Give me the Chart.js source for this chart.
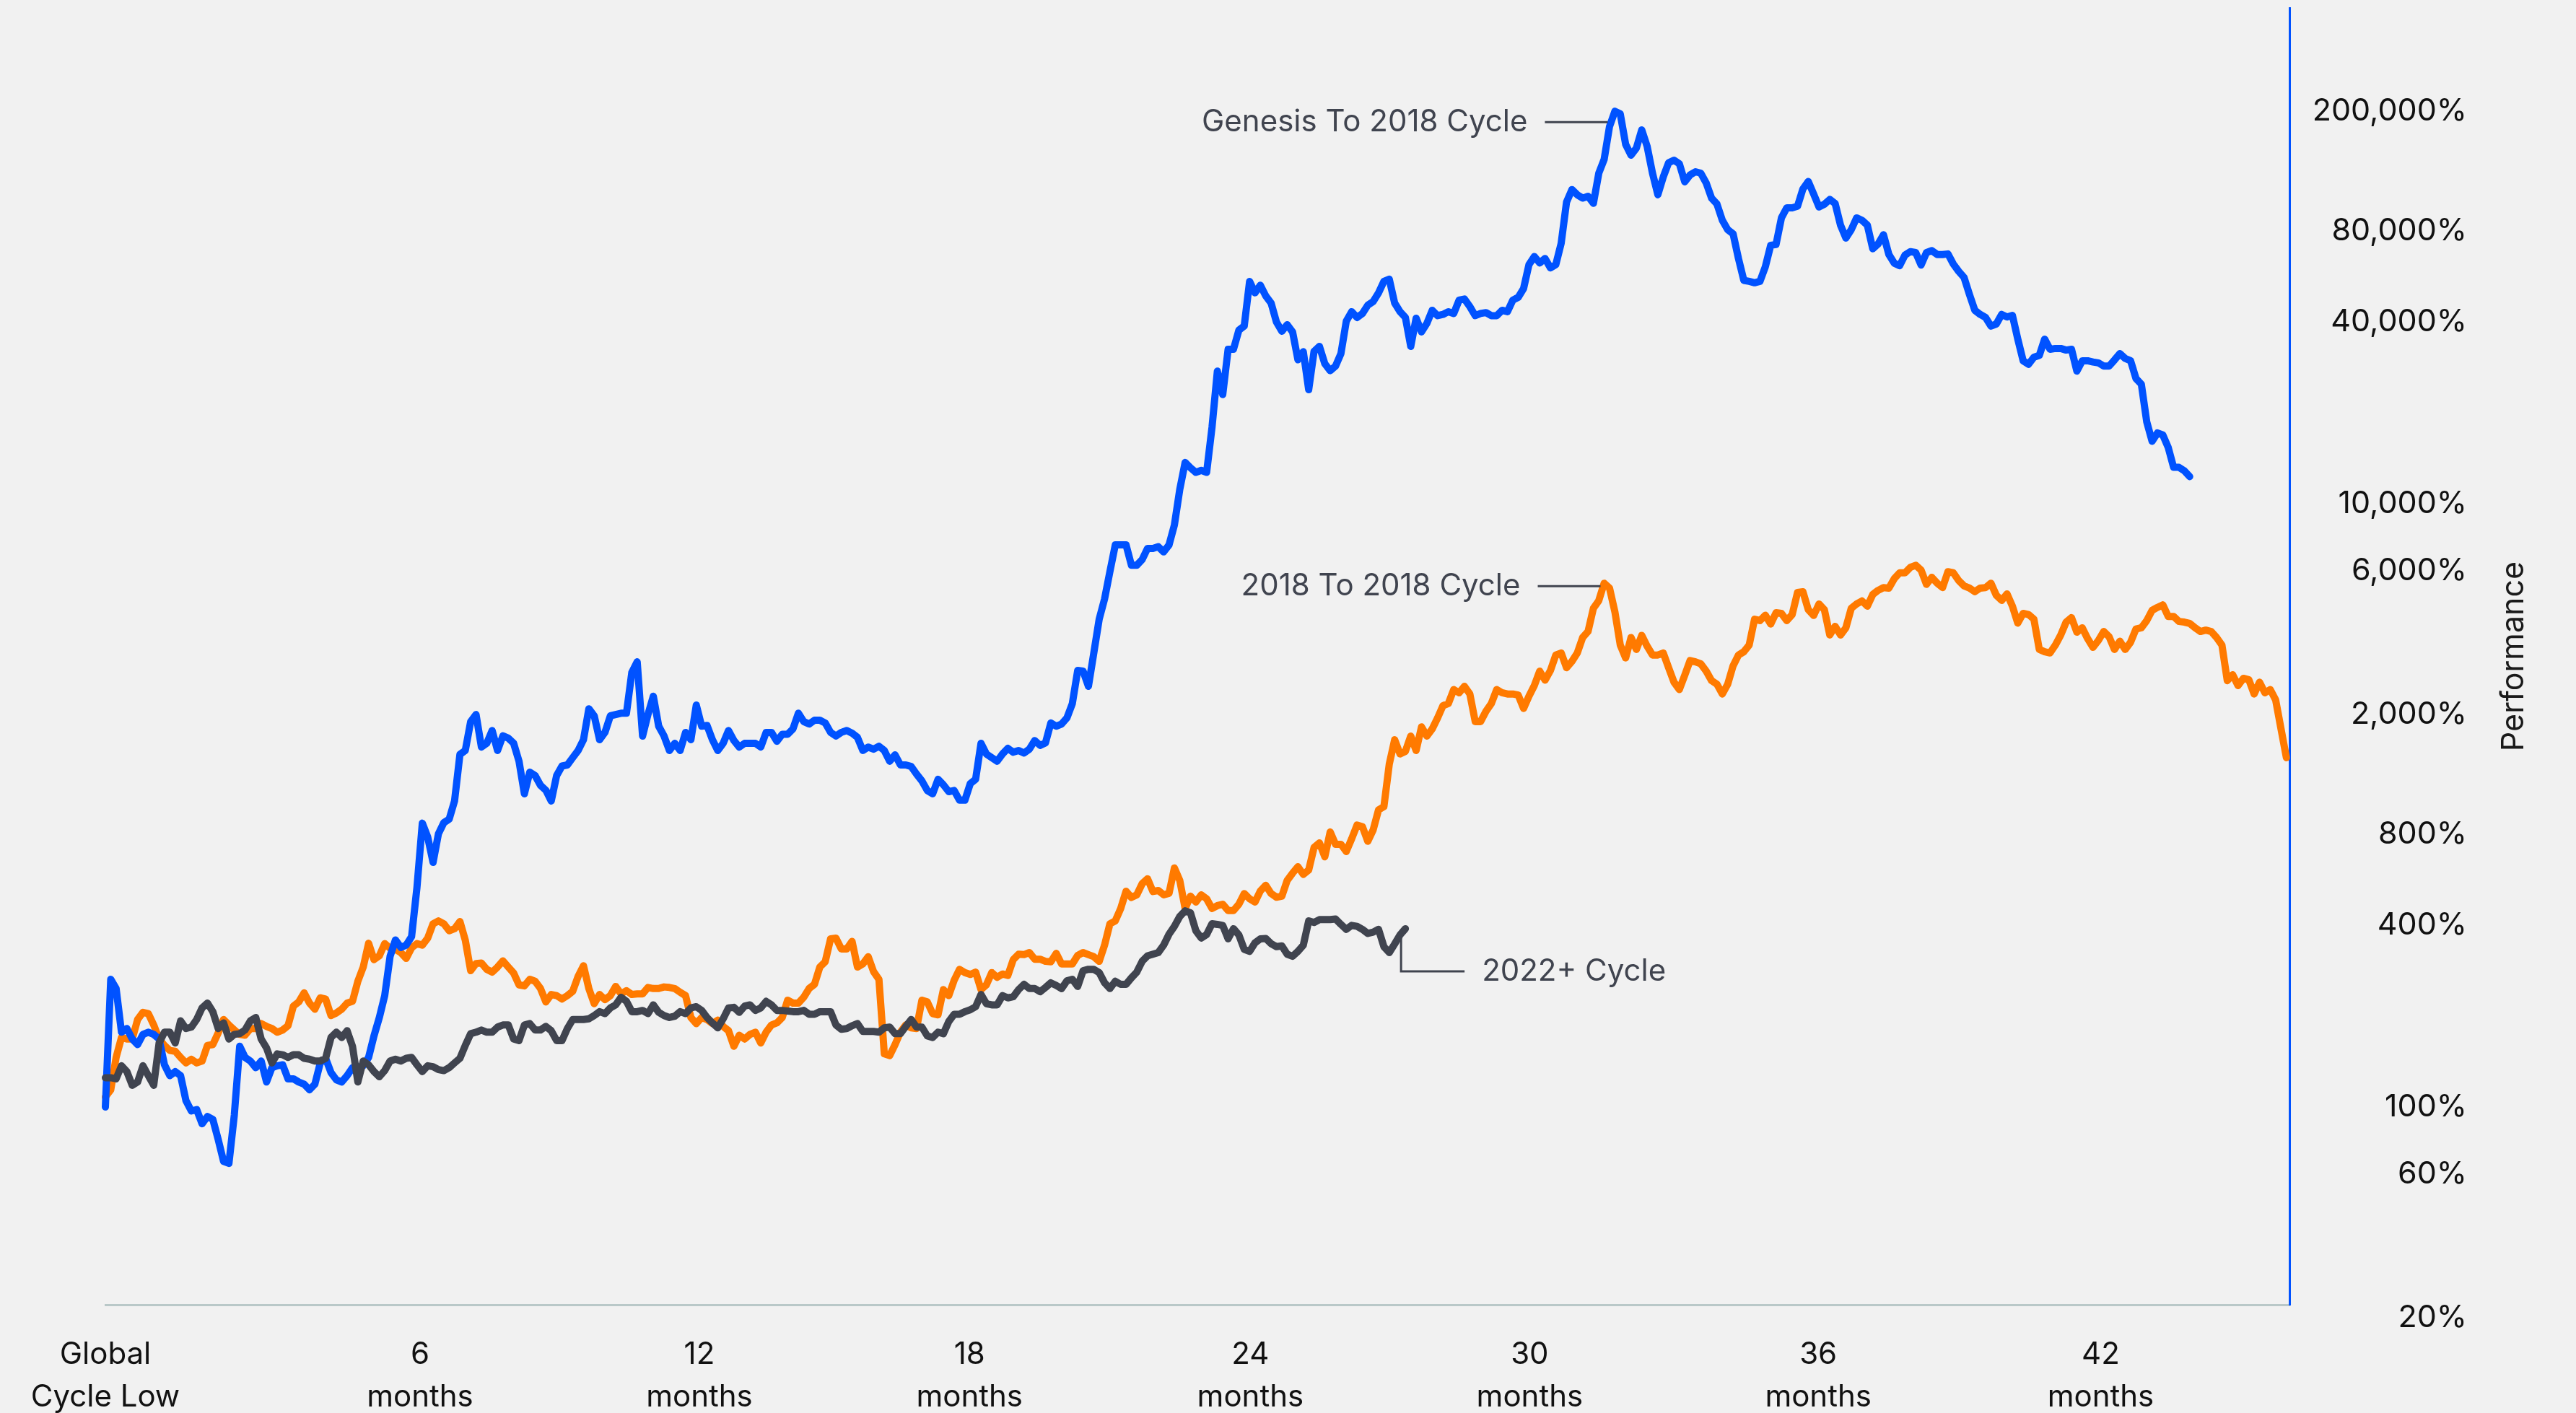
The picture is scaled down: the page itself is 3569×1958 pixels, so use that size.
<!DOCTYPE html>
<html>
<head>
<meta charset="utf-8">
<title>Cycle performance from the global cycle low</title>
<script src="https://cdn.jsdelivr.net/npm/chart.js@4.4.1/dist/chart.umd.min.js"></script>
<style>
  html, body { margin: 0; padding: 0; background: #f1f1f1; }
  #wrap { position: relative; width: 3569px; height: 1958px; }
</style>
</head>
<body>
<div id="wrap"><canvas id="cycles"></canvas></div>
<script>
// Two readings per week, counted in days from the global cycle low
const SAMPLE_DAYS = 3.5;

// Performance (%) of each cycle since its low
const genesisCycle = [
  100, 265, 247, 177, 182, 168, 161, 174, 177, 174,
  168, 138, 127, 131, 127, 105, 97, 98, 88, 93,
  91, 78, 66, 65, 94, 159, 146, 142, 135, 142,
  121, 135, 137, 138, 124, 124, 121, 119, 114, 119,
  140, 145, 130, 123, 121, 127, 135, 135, 137, 146,
  172, 198, 234, 316, 358, 338, 344, 367, 534, 873,
  785, 647, 805, 876, 900, 1034, 1475, 1520, 1895, 2000,
  1560, 1606, 1770, 1520, 1700, 1670, 1606, 1400, 1092, 1288,
  1255, 1165, 1122, 1034, 1255, 1350, 1361, 1439, 1520, 1650,
  2090, 1980, 1650, 1745, 1980, 2000, 2020, 2020, 2760, 2990,
  1697, 2000, 2300, 1830, 1697, 1520, 1606, 1520, 1745, 1650,
  2150, 1830, 1840, 1650, 1520, 1606, 1770, 1640, 1560, 1606,
  1606, 1606, 1560, 1745, 1745, 1630, 1720, 1720, 1793, 2020,
  1895, 1860, 1915, 1915, 1875, 1745, 1697, 1745, 1770, 1735,
  1680, 1520, 1560, 1535, 1570, 1520, 1400, 1470, 1361, 1361,
  1345, 1270, 1205, 1120, 1092, 1220, 1170, 1110, 1120, 1040,
  1040, 1180, 1220, 1606, 1480, 1439, 1400, 1480, 1545, 1500,
  1520, 1490, 1535, 1640, 1580, 1610, 1875, 1830, 1860, 1950,
  2175, 2800, 2786, 2480, 3200, 4140, 4833, 5960, 7300, 7300,
  7300, 6250, 6250, 6530, 7108, 7108, 7200, 6920, 7300, 8500,
  11150, 13700, 13150, 12700, 12900, 12700, 17900, 27500, 23000, 32500,
  32500, 37600, 38800, 54560, 50000, 53000, 48870, 46250, 40000, 37300,
  39210, 37110, 30000, 31900, 23880, 32000, 33230, 29100, 27600, 28600,
  31450, 40300, 43300, 41430, 42700, 45500, 46800, 50000, 54560, 55500,
  46250, 43300, 41430, 33230, 41200, 37110, 39600, 43770, 42000, 42400,
  43300, 42700, 47300, 47700, 45000, 42000, 42700, 43000, 42000, 42000,
  43770, 43300, 47300, 48300, 51640, 62000, 66000, 62800, 65000, 60500,
  62000, 73000, 100000, 110000, 105700, 103000, 104500, 99000, 124600, 138500,
  178000, 200000, 196000, 155400, 143000, 151000, 173500, 153000, 124600, 105700,
  121000, 135000, 137600, 134000, 116700, 123000, 126000, 124600, 115600, 103000,
  98500, 87000, 81000, 78500, 65000, 55000, 54560, 54000, 54560, 61000,
  71870, 72300, 88600, 95700, 95700, 96900, 110500, 117000, 106300, 96300,
  98300, 102000, 98900, 83800, 75940, 81000, 88600, 87000, 83800, 70000,
  72600, 77900, 67000, 62700, 61500, 66700, 68500, 68000, 61800, 68000,
  69000, 67000, 67000, 67300, 62300, 58900, 56200, 49400, 43770, 42400,
  41430, 38800, 39400, 42400, 41600, 42100, 35120, 29770, 29000, 30600,
  31000, 35120, 32500, 32700, 32700, 32300, 32500, 27500, 29770, 29770,
  29500, 29300, 28600, 28600, 29950, 31450, 30300, 29770, 26000, 24900,
  18700, 16100, 17160, 16900, 15370, 13200, 13200, 12850, 12300
];

const cycle2018 = [
  108, 114, 146, 170, 168, 168, 195, 206, 204, 187,
  168, 160, 154, 153, 146, 140, 144, 140, 142, 160,
  161, 176, 195, 187, 180, 174, 173, 182, 182, 189,
  185, 182, 177, 180, 186, 216, 223, 239, 221, 211,
  230, 228, 201, 205, 211, 221, 224, 261, 291, 349,
  308, 317, 348, 336, 333, 325, 311, 337, 348, 344,
  363, 405, 414, 405, 384, 390, 412, 357, 283, 299,
  300, 286, 280, 291, 305, 291, 278, 254, 252, 265,
  261, 247, 223, 236, 234, 228, 234, 242, 271, 294,
  247, 220, 236, 227, 234, 251, 237, 243, 236, 237,
  237, 249, 247, 247, 250, 249, 247, 240, 234, 198,
  189, 198, 195, 189, 194, 185, 179, 159, 173, 168,
  174, 177, 163, 177, 187, 190, 198, 226, 221, 221,
  231, 247, 255, 291, 303, 361, 363, 334, 334, 354,
  291, 298, 315, 281, 265, 150, 148, 161, 177, 187,
  183, 182, 226, 223, 204, 202, 245, 234, 263, 286,
  279, 275, 280, 245, 254, 279, 269, 276, 273, 308,
  321, 320, 325, 309, 309, 304, 303, 323, 298, 298,
  298, 318, 325, 320, 315, 304, 344, 405, 414, 455,
  519, 495, 505, 550, 571, 518, 522, 505, 511, 620,
  564, 455, 500, 478, 505, 490, 455, 465, 470, 448,
  448, 470, 510, 490, 478, 520, 543, 510, 496, 500,
  564, 596, 626, 590, 610, 725, 751, 675, 816, 743,
  743, 703, 775, 860, 850, 760, 829, 966, 990, 1370,
  1650, 1480, 1510, 1697, 1520, 1820, 1697, 1793, 1950, 2140,
  2175, 2420, 2362, 2480, 2340, 1895, 1895, 2050, 2175, 2420,
  2362, 2340, 2340, 2320, 2095, 2300, 2496, 2786, 2600, 2800,
  3150, 3200, 2860, 3000, 3200, 3600, 3770, 4500, 4770, 5450,
  5250, 4380, 3400, 3080, 3600, 3287, 3660, 3370, 3150, 3150,
  3200, 2860, 2560, 2420, 2700, 3020, 2990, 2944, 2786, 2590,
  2520, 2340, 2520, 2900, 3150, 3230, 3400, 4140, 4097, 4270,
  3990, 4350, 4329, 4097, 4290, 5080, 5107, 4450, 4260, 4650,
  4450, 3670, 3920, 3670, 3878, 4500, 4650, 4760, 4575, 5000,
  5160, 5270, 5250, 5640, 5900, 5900, 6150, 6250, 6025, 5400,
  5700, 5450, 5270, 5950, 5900, 5560, 5340, 5250, 5107, 5250,
  5270, 5450, 4970, 4780, 5020, 4575, 4020, 4329, 4290, 4140,
  3287, 3230, 3200, 3400, 3670, 4050, 4190, 3750, 3878, 3570,
  3340, 3520, 3770, 3620, 3287, 3500, 3287, 3473, 3840, 3878,
  4097, 4430, 4530, 4620, 4230, 4230, 4070, 4050, 4010, 3878,
  3770, 3810, 3770, 3600, 3400, 2590, 2710, 2496, 2637, 2610,
  2340, 2560, 2362, 2420, 2236, 1793, 1439
];

const cycle2022 = [
  125, 125, 124, 137, 131, 118, 121, 137, 127, 118,
  163, 177, 177, 163, 193, 182, 184, 195, 213, 221,
  207, 182, 190, 168, 174, 175, 180, 193, 198, 168,
  157, 140, 150, 149, 146, 149, 149, 145, 144, 142,
  142, 145, 170, 177, 170, 179, 159, 121, 142, 138,
  131, 126, 132, 142, 144, 142, 145, 146, 138, 131,
  137, 136, 133, 132, 135, 140, 145, 160, 175, 177,
  180, 177, 177, 184, 187, 187, 168, 166, 187, 189,
  180, 180, 185, 179, 166, 166, 182, 195, 195, 195,
  196, 201, 207, 204, 213, 218, 231, 224, 207, 207,
  209, 204, 218, 206, 201, 198, 200, 207, 204, 213,
  215, 209, 198, 190, 183, 196, 213, 214, 206, 216,
  218, 209, 213, 224, 218, 209, 209, 208, 207, 207,
  209, 203, 203, 207, 207, 207, 187, 181, 182, 186,
  189, 178, 178, 178, 177, 183, 184, 175, 175, 185,
  195, 184, 184, 172, 170, 177, 175, 192, 203, 203,
  207, 210, 215, 236, 220, 218, 218, 234, 230, 232,
  245, 255, 247, 247, 241, 249, 258, 253, 247, 262,
  265, 251, 283, 286, 286, 279, 258, 247, 261, 255,
  255, 268, 280, 304, 317, 321, 325, 344, 374, 397,
  428, 447, 440, 384, 363, 373, 405, 403, 400, 361,
  390, 372, 333, 328, 350, 361, 362, 348, 340, 342,
  321, 316, 328, 344, 414, 409, 418, 418, 418, 420,
  403, 388, 400, 397, 388, 376, 380, 388, 340, 325,
  347, 372, 390
];

// Axis ticks
const tickDays = [0, 205, 387, 563, 746, 928, 1116, 1300];
const tickLabels = [
  ['Global', 'Cycle Low'], ['6', 'months'], ['12', 'months'], ['18', 'months'],
  ['24', 'months'], ['30', 'months'], ['36', 'months'], ['42', 'months']
];
const perfTicks = [20, 60, 100, 400, 800, 2000, 6000, 10000, 40000, 80000, 200000];

const X_MAX_DAYS = 1423;
const Y_MIN = 22.1;
const Y_MAX = 440000;

const BLUE = '#0052ff';
const ORANGE = '#ff7a00';
const SLATE = '#40444f';
const FONT = 'Inter';

const fmtPerf = v => v.toLocaleString('en-US') + '%';
const toPoints = vals => vals.map((v, i) => ({ x: i * SAMPLE_DAYS, y: v }));

// index of the highest reading up to a given day
const peakIndex = (vals, untilDay = Infinity) => {
  let best = 0;
  vals.forEach((v, i) => {
    if (i * SAMPLE_DAYS <= untilDay && v > vals[best]) best = i;
  });
  return best;
};

const peakCallouts = [
  { series: genesisCycle, until: Infinity, text: 'Genesis To 2018 Cycle', gap: 10, drop: 15 },
  { series: cycle2018, until: 1050, text: '2018 To 2018 Cycle', gap: 5, drop: 4 }
];

const cycleLabels = {
  id: 'cycleLabels',
  afterDatasetsDraw(chart) {
    const { ctx, scales: { x, y } } = chart;
    const at = (series, i) => ({
      px: x.getPixelForValue(i * SAMPLE_DAYS),
      py: y.getPixelForValue(series[i])
    });

    ctx.save();
    ctx.font = `42px ${FONT}`;
    ctx.fillStyle = SLATE;
    ctx.strokeStyle = SLATE;
    ctx.lineWidth = 3;
    ctx.textBaseline = 'middle';

    // leader runs left from the high, label sits before it
    ctx.textAlign = 'right';
    peakCallouts.forEach(c => {
      const { px, py } = at(c.series, peakIndex(c.series, c.until));
      const ly = py + c.drop;
      const end = px - c.gap;
      ctx.beginPath();
      ctx.moveTo(end - 87, ly);
      ctx.lineTo(end, ly);
      ctx.stroke();
      ctx.fillText(c.text, end - 111, ly);
    });

    // 2022+ label hangs below the latest reading
    const { px, py } = at(cycle2022, cycle2022.length - 1);
    ctx.beginPath();
    ctx.moveTo(px - 6, py + 5);
    ctx.lineTo(px - 6, py + 59);
    ctx.lineTo(px + 82, py + 59);
    ctx.stroke();
    ctx.textAlign = 'left';
    ctx.fillText('2022+ Cycle', px + 106, py + 59);
    ctx.restore();
  },
  afterDraw(chart) {
    const { ctx, chartArea } = chart;
    ctx.save();
    ctx.translate(chartArea.right + 311, (chartArea.top + chartArea.bottom) / 2);
    ctx.rotate(-Math.PI / 2);
    ctx.font = `43px ${FONT}`;
    ctx.fillStyle = '#1a1a1a';
    ctx.textAlign = 'center';
    ctx.textBaseline = 'middle';
    ctx.fillText('Performance', 0, 0);
    ctx.restore();
  }
};

const lineSet = (label, vals, color) => ({
  label,
  data: toPoints(vals),
  borderColor: color,
  backgroundColor: color,
  borderWidth: 10,
  pointRadius: 0,
  tension: 0,
  borderJoinStyle: 'round',
  borderCapStyle: 'round',
  clip: false
});

new Chart(document.getElementById('cycles'), {
  type: 'line',
  data: {
    // first dataset is painted last, so the 2022+ line sits on top
    datasets: [
      lineSet('2022+ Cycle', cycle2022, SLATE),
      lineSet('Genesis To 2018 Cycle', genesisCycle, BLUE),
      lineSet('2018 To 2018 Cycle', cycle2018, ORANGE)
    ]
  },
  options: {
    responsive: true,
    maintainAspectRatio: false,
    animation: false,
    events: [],
    // right padding leaves room for the rotated axis title
    layout: { padding: { left: 146, top: 11, right: 151, bottom: 0 } },
    plugins: { legend: { display: false }, tooltip: { enabled: false } },
    scales: {
      x: {
        type: 'linear',
        bounds: 'data',
        min: 0,
        max: X_MAX_DAYS,
        grid: { display: false, drawTicks: false },
        border: { display: true, color: '#b9c8c8', width: 3 },
        ticks: {
          autoSkip: false,
          maxRotation: 0,
          padding: 40,
          color: '#111111',
          font: { family: FONT, size: 42, lineHeight: 1.4 },
          callback: (v, i) => tickLabels[i]
        },
        afterBuildTicks: s => { s.ticks = tickDays.map(v => ({ value: v })); },
        afterFit: s => { s.height = 150; s.paddingLeft = 0; s.paddingRight = 0; }
      },
      y: {
        type: 'logarithmic',
        position: 'right',
        bounds: 'data',
        min: Y_MIN,
        max: Y_MAX,
        grid: { display: false, drawTicks: false },
        border: { display: true, color: BLUE, width: 3 },
        ticks: {
          autoSkip: false,
          crossAlign: 'far',
          color: '#111111',
          font: { family: FONT, size: 43 },
          callback: v => fmtPerf(v)
        },
        afterBuildTicks: s => { s.ticks = perfTicks.map(v => ({ value: v })); },
        afterFit: s => { s.width = 246; s.paddingTop = 0; s.paddingBottom = 0; }
      }
    }
  },
  plugins: [cycleLabels]
});
</script>
</body>
</html>
